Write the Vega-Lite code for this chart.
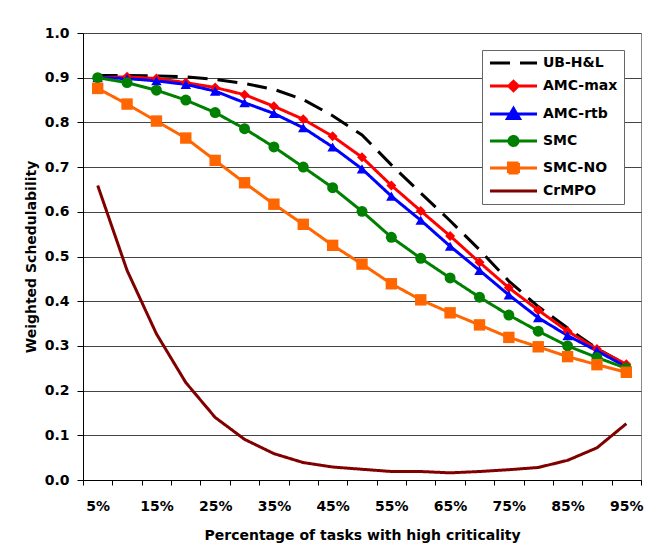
{
  "$schema": "https://vega.github.io/schema/vega-lite/v6.json",
  "width": 558,
  "height": 447,
  "autosize": {"type": "none"},
  "padding": {"left": 83, "top": 33, "right": 26, "bottom": 70},
  "background": "white",
  "config": {
    "font": "DejaVu Sans",
    "view": {"stroke": "#888888", "strokeWidth": 1},
    "axis": {
      "labelFont": "DejaVu Sans", "labelFontWeight": "bold", "labelFontSize": 14, "labelColor": "black",
      "titleFont": "DejaVu Sans", "titleFontWeight": "bold", "titleFontSize": 14, "titleColor": "black",
      "domainColor": "black", "tickColor": "black", "gridColor": "#444444", "gridWidth": 1
    }
  },
  "datasets": {
    "d": [
      {"pct": 5, "series": "UB-H&L", "v": 0.905}, {"pct": 10, "series": "UB-H&L", "v": 0.905}, {"pct": 15, "series": "UB-H&L", "v": 0.904}, {"pct": 20, "series": "UB-H&L", "v": 0.902}, {"pct": 25, "series": "UB-H&L", "v": 0.896}, {"pct": 30, "series": "UB-H&L", "v": 0.887}, {"pct": 35, "series": "UB-H&L", "v": 0.874}, {"pct": 40, "series": "UB-H&L", "v": 0.851}, {"pct": 45, "series": "UB-H&L", "v": 0.815}, {"pct": 50, "series": "UB-H&L", "v": 0.772}, {"pct": 55, "series": "UB-H&L", "v": 0.705}, {"pct": 60, "series": "UB-H&L", "v": 0.642}, {"pct": 65, "series": "UB-H&L", "v": 0.58}, {"pct": 70, "series": "UB-H&L", "v": 0.515}, {"pct": 75, "series": "UB-H&L", "v": 0.445}, {"pct": 80, "series": "UB-H&L", "v": 0.388}, {"pct": 85, "series": "UB-H&L", "v": 0.34}, {"pct": 90, "series": "UB-H&L", "v": 0.294}, {"pct": 95, "series": "UB-H&L", "v": 0.258},
      {"pct": 5, "series": "AMC-max", "v": 0.9}, {"pct": 10, "series": "AMC-max", "v": 0.902}, {"pct": 15, "series": "AMC-max", "v": 0.898}, {"pct": 20, "series": "AMC-max", "v": 0.889}, {"pct": 25, "series": "AMC-max", "v": 0.878}, {"pct": 30, "series": "AMC-max", "v": 0.862}, {"pct": 35, "series": "AMC-max", "v": 0.836}, {"pct": 40, "series": "AMC-max", "v": 0.807}, {"pct": 45, "series": "AMC-max", "v": 0.769}, {"pct": 50, "series": "AMC-max", "v": 0.722}, {"pct": 55, "series": "AMC-max", "v": 0.659}, {"pct": 60, "series": "AMC-max", "v": 0.602}, {"pct": 65, "series": "AMC-max", "v": 0.546}, {"pct": 70, "series": "AMC-max", "v": 0.487}, {"pct": 75, "series": "AMC-max", "v": 0.43}, {"pct": 80, "series": "AMC-max", "v": 0.38}, {"pct": 85, "series": "AMC-max", "v": 0.333}, {"pct": 90, "series": "AMC-max", "v": 0.293}, {"pct": 95, "series": "AMC-max", "v": 0.259},
      {"pct": 5, "series": "AMC-rtb", "v": 0.9}, {"pct": 10, "series": "AMC-rtb", "v": 0.898}, {"pct": 15, "series": "AMC-rtb", "v": 0.893}, {"pct": 20, "series": "AMC-rtb", "v": 0.885}, {"pct": 25, "series": "AMC-rtb", "v": 0.87}, {"pct": 30, "series": "AMC-rtb", "v": 0.844}, {"pct": 35, "series": "AMC-rtb", "v": 0.82}, {"pct": 40, "series": "AMC-rtb", "v": 0.788}, {"pct": 45, "series": "AMC-rtb", "v": 0.745}, {"pct": 50, "series": "AMC-rtb", "v": 0.696}, {"pct": 55, "series": "AMC-rtb", "v": 0.635}, {"pct": 60, "series": "AMC-rtb", "v": 0.581}, {"pct": 65, "series": "AMC-rtb", "v": 0.523}, {"pct": 70, "series": "AMC-rtb", "v": 0.469}, {"pct": 75, "series": "AMC-rtb", "v": 0.414}, {"pct": 80, "series": "AMC-rtb", "v": 0.363}, {"pct": 85, "series": "AMC-rtb", "v": 0.323}, {"pct": 90, "series": "AMC-rtb", "v": 0.289}, {"pct": 95, "series": "AMC-rtb", "v": 0.253},
      {"pct": 5, "series": "SMC", "v": 0.9}, {"pct": 10, "series": "SMC", "v": 0.889}, {"pct": 15, "series": "SMC", "v": 0.872}, {"pct": 20, "series": "SMC", "v": 0.85}, {"pct": 25, "series": "SMC", "v": 0.822}, {"pct": 30, "series": "SMC", "v": 0.786}, {"pct": 35, "series": "SMC", "v": 0.745}, {"pct": 40, "series": "SMC", "v": 0.7}, {"pct": 45, "series": "SMC", "v": 0.654}, {"pct": 50, "series": "SMC", "v": 0.601}, {"pct": 55, "series": "SMC", "v": 0.543}, {"pct": 60, "series": "SMC", "v": 0.496}, {"pct": 65, "series": "SMC", "v": 0.452}, {"pct": 70, "series": "SMC", "v": 0.409}, {"pct": 75, "series": "SMC", "v": 0.369}, {"pct": 80, "series": "SMC", "v": 0.333}, {"pct": 85, "series": "SMC", "v": 0.3}, {"pct": 90, "series": "SMC", "v": 0.274}, {"pct": 95, "series": "SMC", "v": 0.25},
      {"pct": 5, "series": "SMC-NO", "v": 0.876}, {"pct": 10, "series": "SMC-NO", "v": 0.841}, {"pct": 15, "series": "SMC-NO", "v": 0.803}, {"pct": 20, "series": "SMC-NO", "v": 0.765}, {"pct": 25, "series": "SMC-NO", "v": 0.715}, {"pct": 30, "series": "SMC-NO", "v": 0.665}, {"pct": 35, "series": "SMC-NO", "v": 0.617}, {"pct": 40, "series": "SMC-NO", "v": 0.572}, {"pct": 45, "series": "SMC-NO", "v": 0.525}, {"pct": 50, "series": "SMC-NO", "v": 0.483}, {"pct": 55, "series": "SMC-NO", "v": 0.439}, {"pct": 60, "series": "SMC-NO", "v": 0.403}, {"pct": 65, "series": "SMC-NO", "v": 0.374}, {"pct": 70, "series": "SMC-NO", "v": 0.347}, {"pct": 75, "series": "SMC-NO", "v": 0.319}, {"pct": 80, "series": "SMC-NO", "v": 0.298}, {"pct": 85, "series": "SMC-NO", "v": 0.276}, {"pct": 90, "series": "SMC-NO", "v": 0.258}, {"pct": 95, "series": "SMC-NO", "v": 0.241},
      {"pct": 5, "series": "CrMPO", "v": 0.659}, {"pct": 10, "series": "CrMPO", "v": 0.469}, {"pct": 15, "series": "CrMPO", "v": 0.327}, {"pct": 20, "series": "CrMPO", "v": 0.218}, {"pct": 25, "series": "CrMPO", "v": 0.14}, {"pct": 30, "series": "CrMPO", "v": 0.091}, {"pct": 35, "series": "CrMPO", "v": 0.059}, {"pct": 40, "series": "CrMPO", "v": 0.039}, {"pct": 45, "series": "CrMPO", "v": 0.029}, {"pct": 50, "series": "CrMPO", "v": 0.024}, {"pct": 55, "series": "CrMPO", "v": 0.019}, {"pct": 60, "series": "CrMPO", "v": 0.019}, {"pct": 65, "series": "CrMPO", "v": 0.016}, {"pct": 70, "series": "CrMPO", "v": 0.019}, {"pct": 75, "series": "CrMPO", "v": 0.023}, {"pct": 80, "series": "CrMPO", "v": 0.028}, {"pct": 85, "series": "CrMPO", "v": 0.044}, {"pct": 90, "series": "CrMPO", "v": 0.072}, {"pct": 95, "series": "CrMPO", "v": 0.126}
    ]
  },
  "data": {"name": "d"},
  "encoding": {
    "x": {
      "field": "pct", "type": "ordinal", "bandPosition": 0.5,
      "scale": {"type": "band", "paddingInner": 0, "paddingOuter": 0},
      "title": "Percentage of tasks with high criticality",
      "axis": {
        "labelAngle": 0, "tickBand": "extent", "tickSize": 5, "labelPadding": 14, "titlePadding": 15,
        "labelExpr": "datum.value % 10 == 5 ? datum.value + '%' : ''",
        "grid": false
      }
    },
    "y": {
      "field": "v", "type": "quantitative",
      "scale": {"domain": [0, 1], "nice": false},
      "title": "Weighted Schedulability",
      "axis": {
        "values": [0, 0.1, 0.2, 0.3, 0.4, 0.5, 0.6, 0.7, 0.8, 0.9, 1.0],
        "format": ".1f", "tickSize": 6, "labelPadding": 8, "titlePadding": 6, "grid": true
      }
    }
  },
  "layer": [
    {
      "mark": {"type": "line", "strokeWidth": 3},
      "encoding": {
        "color": {
          "field": "series", "type": "nominal",
          "scale": {
            "domain": ["UB-H&L", "AMC-max", "AMC-rtb", "SMC", "SMC-NO", "CrMPO"],
            "range": ["#000000", "#FF0000", "#0000FF", "#008000", "#FF6600", "#800000"]
          },
          "legend": {
            "title": null, "orient": "top-right", "offset": 17,
            "fillColor": "white", "strokeColor": "#666666", "padding": 6,
            "labelFont": "DejaVu Sans", "labelFontWeight": "bold", "labelFontSize": 14, "labelColor": "black",
            "symbolSize": 100, "symbolStrokeWidth": 3, "labelOffset": 41, "rowPadding": 5,
            "encode": {
              "symbols": {
                "update": {
                  "shape": {"signal": "datum.value == 'AMC-max' ? 'M-1,0H8.4M3.7,-0.94L4.64,0L3.7,0.94L2.76,0Z' : datum.value == 'AMC-rtb' ? 'M-1,0H8.4M3.7,-1.1L4.9,0.9L2.5,0.9Z' : datum.value == 'SMC' ? 'M-1,0H8.4M4.6,0A0.9,0.9,0,1,1,2.8,0A0.9,0.9,0,1,1,4.6,0Z' : datum.value == 'SMC-NO' ? 'M-1,0H8.4M2.7,-1H4.7V1H2.7Z' : 'M-1,0H8.4'"},
                  "fill": {"scale": "color", "field": "value"},
                  "stroke": {"scale": "color", "field": "value"},
                  "strokeWidth": {"value": 3},
                  "opacity": {"value": 1}
                }
              }
            }
          }
        },
        "strokeDash": {
          "field": "series", "type": "nominal",
          "scale": {
            "domain": ["UB-H&L", "AMC-max", "AMC-rtb", "SMC", "SMC-NO", "CrMPO"],
            "range": [[20, 10], [1, 0], [1, 0], [1, 0], [1, 0], [1, 0]]
          }
        }
      }
    },
    {
      "transform": [{"filter": "indexof(['AMC-max','AMC-rtb','SMC','SMC-NO'], datum.series) >= 0"}],
      "mark": {"type": "point", "filled": true, "opacity": 1},
      "encoding": {
        "color": {"field": "series", "type": "nominal"},
        "shape": {
          "field": "series", "type": "nominal",
          "scale": {"domain": ["AMC-max", "AMC-rtb", "SMC", "SMC-NO"], "range": ["diamond", "triangle-up", "circle", "square"]},
          "legend": null
        },
        "size": {
          "field": "series", "type": "nominal",
          "scale": {"domain": ["AMC-max", "AMC-rtb", "SMC", "SMC-NO"], "range": [100, 130, 81, 110]},
          "legend": null
        }
      }
    }
  ]
}
